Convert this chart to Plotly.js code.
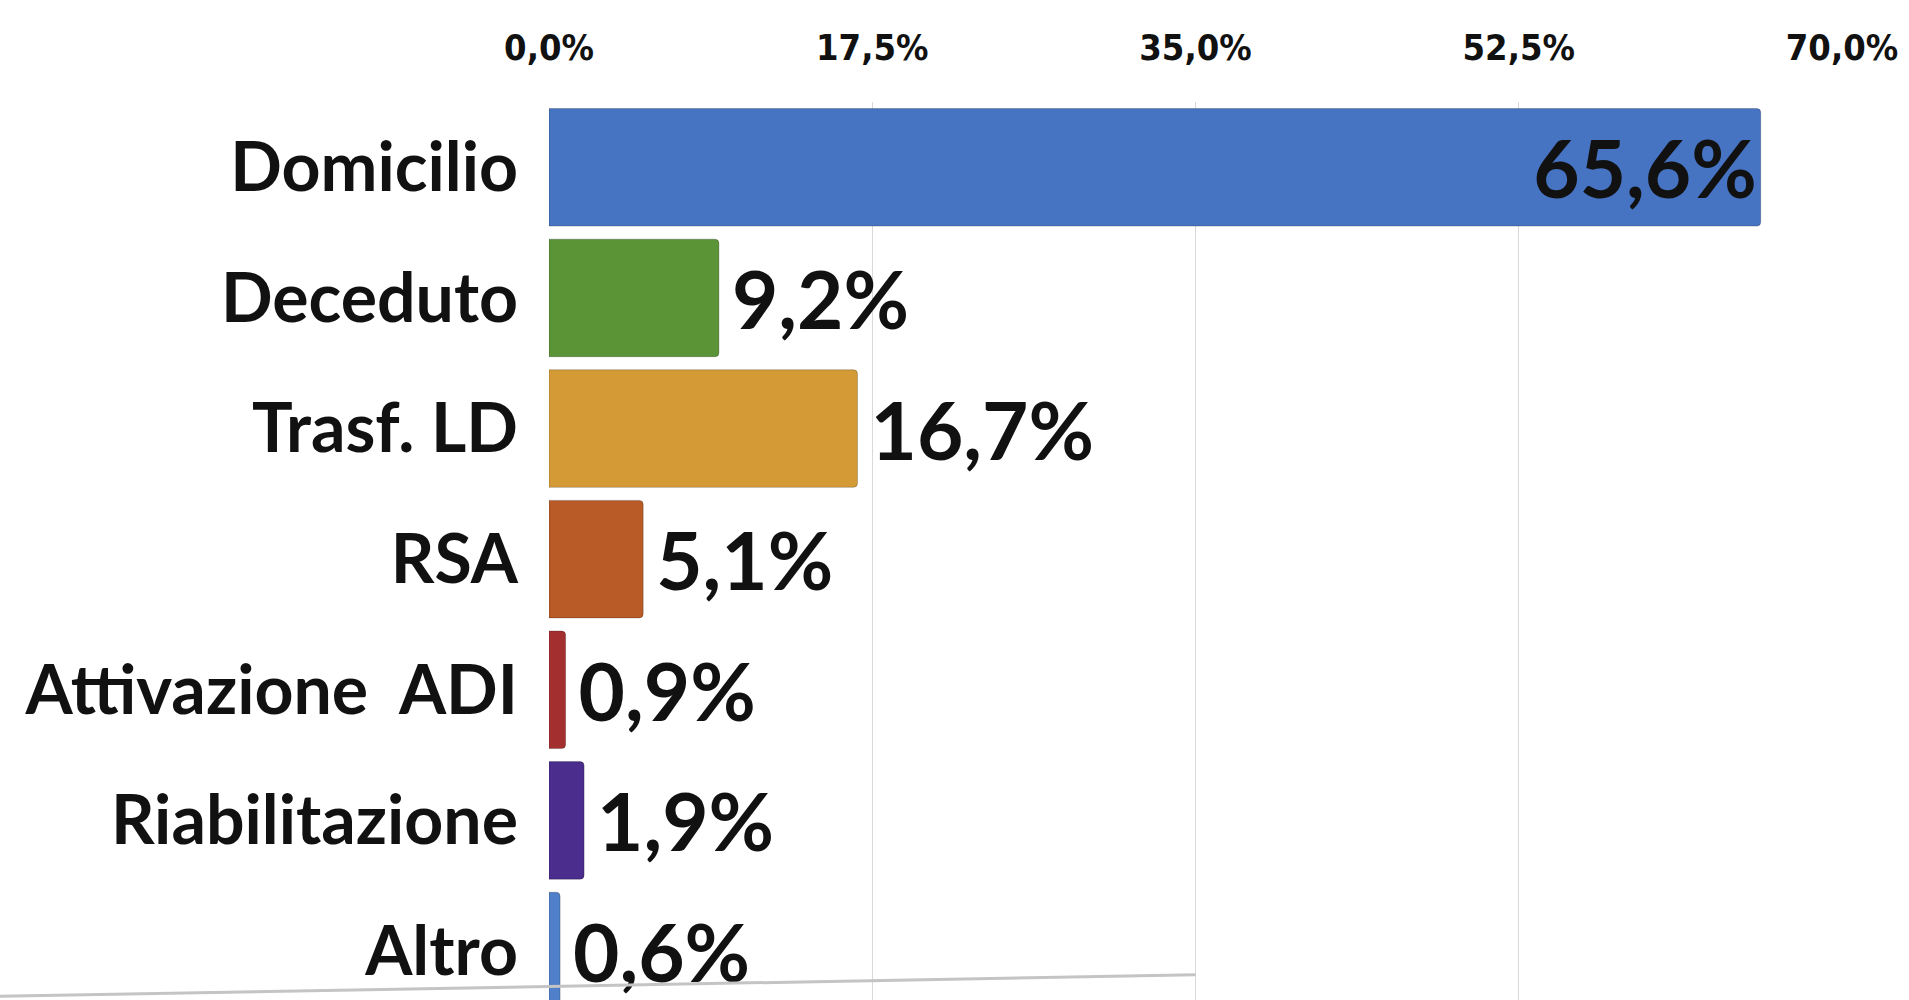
<!DOCTYPE html>
<html>
<head>
<meta charset="utf-8">
<script src="https://cdn.plot.ly/plotly-3.0.1.min.js"></script>
<style>
  html, body { margin: 0; padding: 0; background: #ffffff; }
  #chart { width: 1909px; height: 1000px; }
</style>
</head>
<body>
<div id="chart"></div>
<script>
"use strict";

const categories = ["Domicilio", "Deceduto", "Trasf. LD", "RSA", "Attivazione\u00a0 ADI", "Riabilitazione", "Altro"];
const percentValues = [65.6, 9.2, 16.7, 5.1, 0.9, 1.9, 0.6];
const valueLabels = ["65,6%", "9,2%", "16,7%", "5,1%", "0,9%", "1,9%", "0,6%"];
const tickValues = [0, 17.5, 35, 52.5, 70];
const tickLabels = ["0,0%", "17,5%", "35,0%", "52,5%", "70,0%"];

const barColors = ["#4673c2", "#5b9337", "#d49a36", "#b95b27", "#a3302e", "#4a2d8c", "#4f80c9"];
const labelPositions = percentValues.map(function (v) { return v > 50 ? "inside" : "outside"; });
// small gap between the bar end and the outside labels
const shownLabels = valueLabels.map(function (t, i) { return labelPositions[i] === "outside" ? "\u2009" + t : t; });

const barTrace = {
    type: "bar",
    orientation: "h",
    y: categories,
    x: percentValues,
    text: shownLabels,
    textposition: labelPositions,
    insidetextanchor: "end",
    constraintext: "none",
    cliponaxis: false,
    textfont: { family: "Lato, 'DejaVu Sans', sans-serif", size: 80, color: "#111111", weight: 700 },
    marker: { color: barColors, cornerradius: 4, line: { color: "rgba(0,0,0,0.22)", width: 1 } },
    hoverinfo: "skip"
};

const layout = {
    width: 1909,
    height: 1000,
    margin: { l: 549, r: 67, t: 102, b: 0 },
    paper_bgcolor: "#ffffff",
    plot_bgcolor: "#ffffff",
    showlegend: false,
    bargap: 0.1,
    xaxis: {
        side: "top",
        range: [0, 70],
        tickvals: tickValues,
        ticktext: tickLabels,
        showgrid: true,
        gridcolor: "#d9d9d9",
        gridwidth: 1,
        zeroline: false,
        showline: false,
        ticks: "",
        ticklabelstandoff: 34,
        tickfont: { family: "'DejaVu Sans Condensed', 'DejaVu Sans', sans-serif", size: 36, color: "#111111", weight: 700 }
    },
    yaxis: {
        type: "category",
        range: [6.375, -0.5],
        showgrid: false,
        zeroline: false,
        showline: false,
        ticks: "",
        ticklabelstandoff: 30,
        tickfont: { family: "Lato, 'DejaVu Sans', sans-serif", size: 68, color: "#111111", weight: 700 }
    },
    shapes: [
        {
            type: "line", xref: "paper", yref: "paper",
            x0: -0.43, y0: 0.004, x1: 0.5, y1: 0.028,
            line: { color: "#c4c4c4", width: 3 }
        }
    ]
};

Plotly.newPlot("chart", [barTrace], layout, { displayModeBar: false, staticPlot: true });
</script>
</body>
</html>
